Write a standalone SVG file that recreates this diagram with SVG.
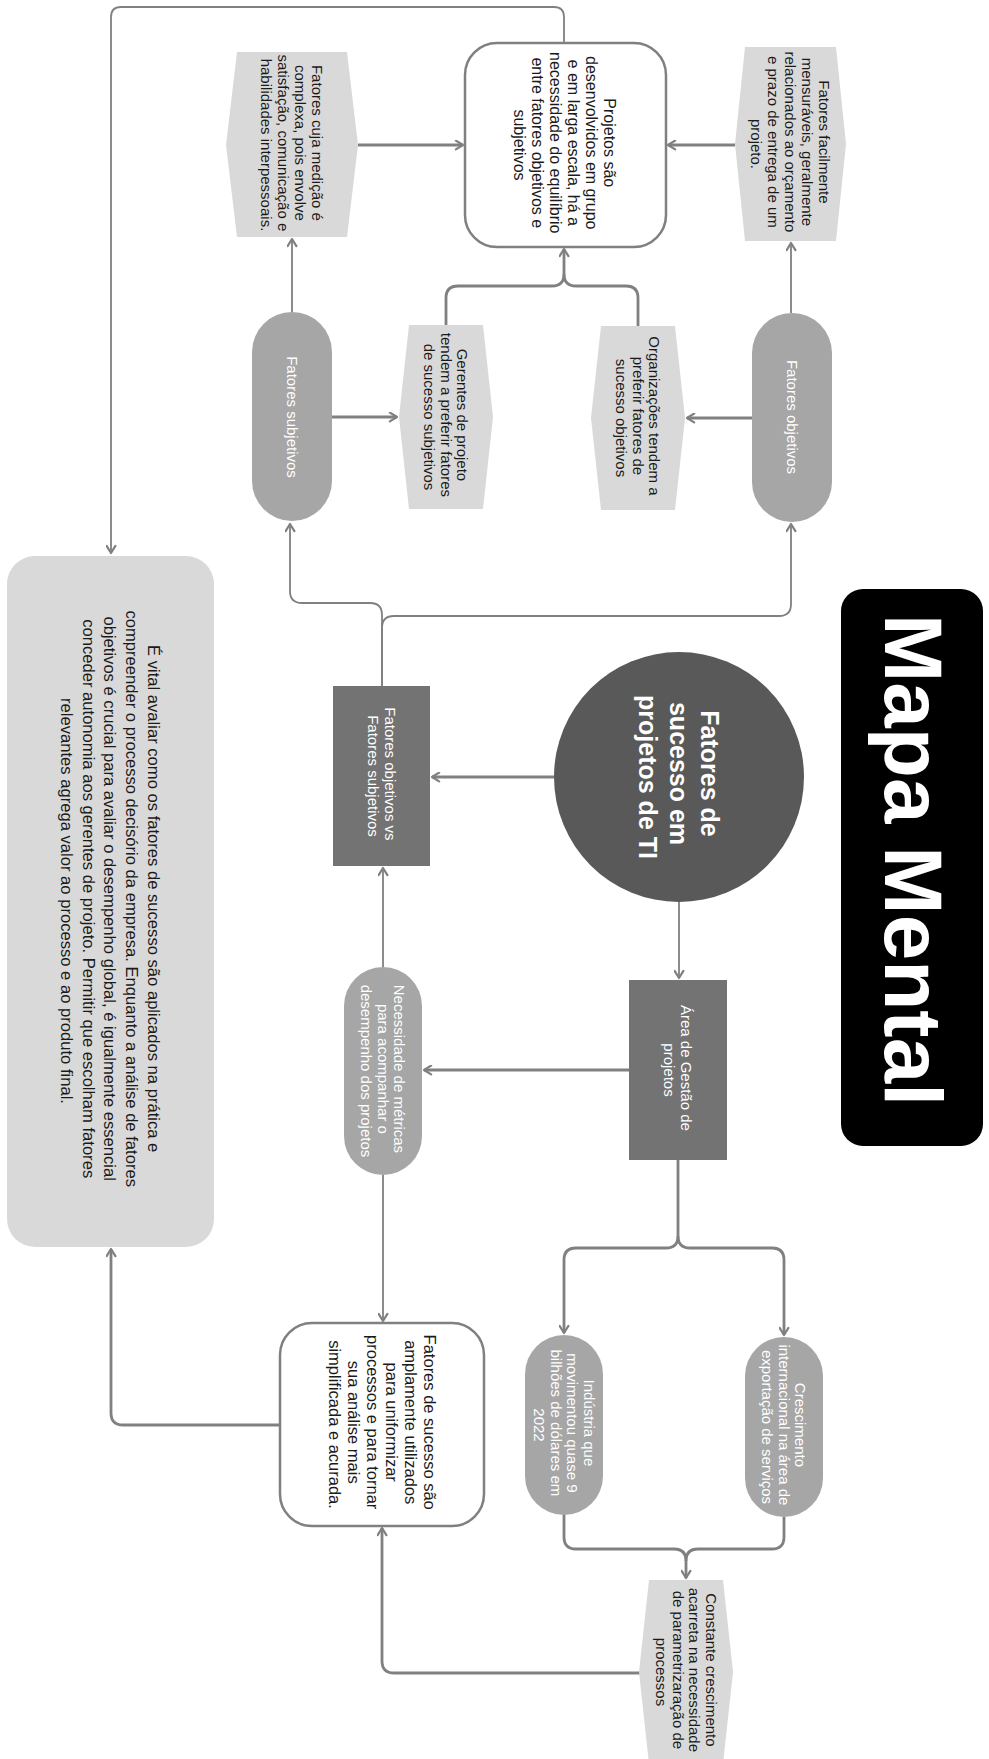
<svg xmlns="http://www.w3.org/2000/svg" width="989" height="1759" viewBox="0 0 989 1759">
<defs>
<marker id="ah" viewBox="0 0 10 10" refX="8" refY="5" markerWidth="11" markerHeight="11" markerUnits="userSpaceOnUse" orient="auto">
<path d="M1.5,1 L8,5 L1.5,9" fill="none" stroke="#808080" stroke-width="2" stroke-linejoin="round" stroke-linecap="round"/>
</marker>
</defs>
<style>
.thick{fill:none;stroke:#808080;stroke-width:2.8}
.thin{fill:none;stroke:#808080;stroke-width:1.8}
.box{fill:#ffffff;stroke:#808080;stroke-width:2.5}
.hex{fill:#d9d9d9}
.pill{fill:#a6a6a6}
.dark{fill:#737373}
.t{font-family:"Liberation Sans",Arial,sans-serif;text-anchor:middle}
.blk{fill:#1a1a1a}
.wht{fill:#ffffff}
</style>
<rect width="989" height="1759" fill="#ffffff"/>

<g id="connectors">
<path class="thin" d="M564,43 V17 Q564,7 554,7 H121 Q111,7 111,17 V553" marker-end="url(#ah)"/>
<path class="thick" d="M358,145 H463" marker-end="url(#ah)"/>
<path class="thick" d="M735,145 H668" marker-end="url(#ah)"/>
<path class="thin" d="M292,312 V239" marker-end="url(#ah)"/>
<path class="thin" d="M791,313 V243" marker-end="url(#ah)"/>
<path class="thick" d="M332,417 H397" marker-end="url(#ah)"/>
<path class="thick" d="M753,418 H687" marker-end="url(#ah)"/>
<path class="thick" d="M446,325 V298 Q446,286 458,286 H552 Q564,286 564,274 V249" marker-end="url(#ah)"/>
<path class="thick" d="M638,326 V298 Q638,286 626,286 H576 Q564,286 564,274"/>
<path class="thin" d="M382,686 V615 Q382,603 370,603 H302 Q290,603 290,591 V524" marker-end="url(#ah)"/>
<path class="thin" d="M382,686 V628 Q382,616 394,616 H779 Q791,616 791,604 V524" marker-end="url(#ah)"/>
<path class="thick" d="M554,777 H432" marker-end="url(#ah)"/>
<path class="thin" d="M679,902 V978" marker-end="url(#ah)"/>
<path class="thick" d="M629,1070 H424" marker-end="url(#ah)"/>
<path class="thin" d="M383,967 V868" marker-end="url(#ah)"/>
<path class="thin" d="M383,1175 V1321" marker-end="url(#ah)"/>
<path class="thick" d="M678,1160 V1236 Q678,1248 666,1248 H576 Q564,1248 564,1260 V1333" marker-end="url(#ah)"/>
<path class="thick" d="M678,1236 Q678,1248 690,1248 H772 Q784,1248 784,1260 V1335" marker-end="url(#ah)"/>
<path class="thick" d="M564,1514 V1537 Q564,1549 576,1549 H674 Q686,1549 686,1561 V1578" marker-end="url(#ah)"/>
<path class="thick" d="M784,1517 V1537 Q784,1549 772,1549 H698 Q686,1549 686,1561"/>
<path class="thick" d="M640,1673 H394 Q382,1673 382,1661 V1528" marker-end="url(#ah)"/>
<path class="thick" d="M280,1425 H123 Q111,1425 111,1413 V1249" marker-end="url(#ah)"/>
</g>

<g id="title">
<rect x="841" y="589" width="142" height="557" rx="22" fill="#000000"/>
<text class="t wht" transform="translate(914.5,860) rotate(90)" font-size="82" font-weight="bold" y="29.4">Mapa Mental</text>
</g>

<g id="central">
<circle cx="679" cy="777" r="125" fill="#595959"/>
<text class="t wht" transform="translate(679,777) rotate(90)" font-size="25" font-weight="bold">
<tspan x="0" y="-22.25">Fatores de</tspan>
<tspan x="0" y="8.75">sucesso em</tspan>
<tspan x="0" y="39.75">projetos de TI</tspan>
</text>
</g>

<g id="projetos">
<rect class="box" x="465" y="43" width="201" height="204" rx="32"/>
<text class="t blk" transform="translate(565,145) rotate(90)" font-size="16">
<tspan x="0" y="-39.4">Projetos são</tspan>
<tspan x="0" y="-21.4">desenvolvidos em grupo</tspan>
<tspan x="0" y="-3.4">e em larga escala, há a</tspan>
<tspan x="0" y="14.6">necessidade do equilíbrio</tspan>
<tspan x="0" y="32.6">entre fatores objetivos e</tspan>
<tspan x="0" y="50.6">subjetivos</tspan>
</text>
</g>

<g id="fatores-cuja">
<polygon class="hex" points="237,52 347,52 358,145 347,237 237,237 226,145"/>
<text class="t blk" transform="translate(292,145) rotate(90)" font-size="15">
<tspan x="0" y="-20.25">Fatores cuja medição é</tspan>
<tspan x="0" y="-3.25">complexa, pois envolve</tspan>
<tspan x="0" y="13.75">satisfação, comunicação e</tspan>
<tspan x="0" y="30.75">habilidades interpessoais.</tspan>
</text>
</g>

<g id="fatores-facilmente">
<polygon class="hex" points="745,47 836,47 846,144 836,241 745,241 735,144"/>
<text class="t blk" transform="translate(790,144) rotate(90)" font-size="15">
<tspan x="0" y="-28.75">Fatores facilmente</tspan>
<tspan x="0" y="-11.75">mensuráveis, geralmente</tspan>
<tspan x="0" y="5.25">relacionados ao orçamento</tspan>
<tspan x="0" y="22.25">e prazo de entrega de um</tspan>
<tspan x="0" y="39.25">projeto.</tspan>
</text>
</g>

<g id="fatores-subjetivos">
<rect class="pill" x="252" y="312" width="80" height="209" rx="40"/>
<text class="t wht" transform="translate(292,417) rotate(90)" font-size="15" y="5.25">Fatores subjetivos</text>
</g>

<g id="fatores-objetivos">
<rect class="pill" x="752" y="313" width="80" height="209" rx="40"/>
<text class="t wht" transform="translate(792,417) rotate(90)" font-size="15" y="5.25">Fatores objetivos</text>
</g>

<g id="gerentes">
<polygon class="hex" points="409,325 483,325 493,417 483,509 409,509 399,417"/>
<text class="t blk" transform="translate(446,417) rotate(90)" font-size="15">
<tspan x="0" y="-11.25">Gerentes de projeto</tspan>
<tspan x="0" y="5.25">tendem a preferir fatores</tspan>
<tspan x="0" y="21.75">de sucesso subjetivos</tspan>
</text>
</g>

<g id="organizacoes">
<polygon class="hex" points="601,326 675,326 685,418 675,510 601,510 591,418"/>
<text class="t blk" transform="translate(638,418) rotate(90)" font-size="15">
<tspan x="0" y="-11.25">Organizações tendem a</tspan>
<tspan x="0" y="5.25">preferir fatores de</tspan>
<tspan x="0" y="21.75">sucesso objetivos</tspan>
</text>
</g>

<g id="objetivos-vs-subjetivos">
<rect class="dark" x="333" y="686" width="97" height="180"/>
<text class="t wht" transform="translate(381.5,776) rotate(90)" font-size="15">
<tspan x="0" y="-3.25">Fatores objetivos vs</tspan>
<tspan x="0" y="13.75">Fatores subjetivos</tspan>
</text>
</g>

<g id="vital">
<rect x="7" y="556" width="207" height="691" rx="28" fill="#d9d9d9"/>
<text class="t blk" transform="translate(110,901) rotate(90)" font-size="16.6">
<tspan x="0" y="-37.6">É vital avaliar como os fatores de sucesso são aplicados na prática e</tspan>
<tspan x="0" y="-15.9">compreender o processo decisório da empresa. Enquanto a análise de fatores</tspan>
<tspan x="0" y="5.8">objetivos é crucial para avaliar o desempenho global, é igualmente essencial</tspan>
<tspan x="0" y="27.5">conceder autonomia aos gerentes de projeto. Permitir que escolham fatores</tspan>
<tspan x="0" y="49.2">relevantes agrega valor ao processo e ao produto final.</tspan>
</text>
</g>

<g id="area-gestao">
<rect class="dark" x="629" y="980" width="98" height="180"/>
<text class="t wht" transform="translate(678,1070) rotate(90)" font-size="15">
<tspan x="0" y="-3.25">Área de Gestão de</tspan>
<tspan x="0" y="13.75">projetos</tspan>
</text>
</g>

<g id="necessidade">
<rect class="pill" x="344" y="967" width="78" height="208" rx="39"/>
<text class="t wht" transform="translate(383,1071) rotate(90)" font-size="15">
<tspan x="0" y="-11.25">Necessidade de métricas</tspan>
<tspan x="0" y="5.25">para acompanhar o</tspan>
<tspan x="0" y="21.75">desempenho dos projetos</tspan>
</text>
</g>

<g id="fatores-sucesso-sao">
<rect class="box" x="280" y="1323" width="204" height="203" rx="32"/>
<text class="t blk" transform="translate(382,1424.5) rotate(90)" font-size="16.5">
<tspan x="0" y="-41.7">Fatores de sucesso são</tspan>
<tspan x="0" y="-22.7">amplamente utilizados</tspan>
<tspan x="0" y="-3.7">para uniformizar</tspan>
<tspan x="0" y="15.3">processos e para tornar</tspan>
<tspan x="0" y="34.3">sua análise mais</tspan>
<tspan x="0" y="53.3">simplificada e acurada.</tspan>
</text>
</g>

<g id="industria">
<rect class="pill" x="525" y="1335" width="78" height="180" rx="39"/>
<text class="t wht" transform="translate(564,1425) rotate(90)" font-size="15">
<tspan x="0" y="-19.5">Indústria que</tspan>
<tspan x="0" y="-3">movimentou quase 9</tspan>
<tspan x="0" y="13.5">bilhões de dólares em</tspan>
<tspan x="0" y="30">2022</tspan>
</text>
</g>

<g id="crescimento">
<rect class="pill" x="745" y="1337" width="78" height="180" rx="39"/>
<text class="t wht" transform="translate(784,1427) rotate(90)" font-size="15">
<tspan x="0" y="-11.25">Crescimento</tspan>
<tspan x="0" y="5.25">internacional na área de</tspan>
<tspan x="0" y="21.75">exportação de serviços</tspan>
</text>
</g>

<g id="constante">
<polygon class="hex" points="649,1580 723,1580 733,1672 723,1764 649,1764 639,1672"/>
<text class="t blk" transform="translate(686,1672) rotate(90)" font-size="15">
<tspan x="0" y="-19.5">Constante crescimento</tspan>
<tspan x="0" y="-3">acarreta na necessidade</tspan>
<tspan x="0" y="13.5">de parametrizaração de</tspan>
<tspan x="0" y="30">processos</tspan>
</text>
</g>
</svg>
